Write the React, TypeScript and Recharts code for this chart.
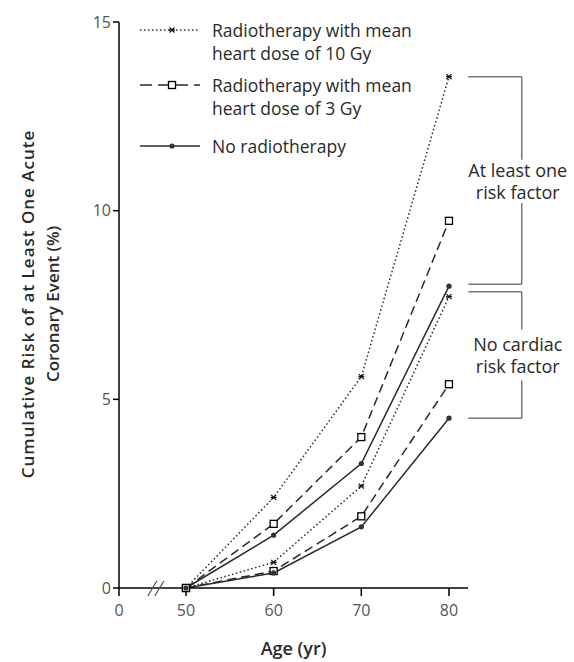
import { LineChart, Line, XAxis, YAxis, Legend, ReferenceLine, ReferenceDot } from "recharts";

// Age groups and cumulative risk (%)
const ages = [50, 60, 70, 80];
// patients with at least one cardiac risk factor
const dose10Risk = [0, 2.4, 5.6, 13.55];
const dose3Risk = [0, 1.7, 4.0, 9.73];
const noRtRisk = [0, 1.4, 3.3, 8.0];
// patients with no cardiac risk factor
const dose10None = [0, 0.68, 2.7, 7.72];
const dose3None = [0, 0.45, 1.9, 5.4];
const noRtNone = [0, 0.4, 1.62, 4.5];

// broken x axis: "0" is drawn just left of the break
const axisZero = 42.36;
const xTicks = [axisZero, 50, 60, 70, 80];
const xTickLabels = ["0", "50", "60", "70", "80"];
const yTicks = [0, 5, 10, 15];

const legendLabels = [
  ["Radiotherapy with mean", "heart dose of 10 Gy"],
  ["Radiotherapy with mean", "heart dose of 3 Gy"],
  ["No radiotherapy"],
];

// bracket annotations on the right
const bracketLabels = [
  ["At least one", "risk factor"],
  ["No cardiac", "risk factor"],
];
const bracketTop = [13.55, 7.85];
const bracketBottom = [8.05, 4.5];
const bracketGapTop = [11.35, 6.85];
const bracketGapBottom = [10.2, 5.5];
const bracketStart = 82.2;
const bracketEdge = 88.3;

const data = ages.map((age, i) => ({
  age,
  dose10Risk: dose10Risk[i],
  dose3Risk: dose3Risk[i],
  noRtRisk: noRtRisk[i],
  dose10None: dose10None[i],
  dose3None: dose3None[i],
  noRtNone: noRtNone[i],
}));

const INK = "#2a2a2a";
const FONT = "'Open Sans', sans-serif";

type MarkerKind = "star" | "square" | "dot";

const Marker = ({ kind, cx, cy }: { kind: MarkerKind; cx: number; cy: number }) => {
  if (kind === "square") {
    return <rect x={cx - 3.5} y={cy - 3.5} width={7} height={7} fill="#fff" stroke="#000" strokeWidth={1.3} />;
  }
  if (kind === "star") {
    return (
      <g stroke="#111" strokeWidth={1.2}>
        <line x1={cx - 2.5} y1={cy - 2.5} x2={cx + 2.5} y2={cy + 2.5} />
        <line x1={cx - 2.5} y1={cy + 2.5} x2={cx + 2.5} y2={cy - 2.5} />
        <line x1={cx - 3} y1={cy} x2={cx + 3} y2={cy} />
      </g>
    );
  }
  return <circle cx={cx} cy={cy} r={2.6} fill="#333" />;
};

const seriesStyles: { key: string; dash?: string; marker: MarkerKind }[] = [
  { key: "dose10Risk", dash: "1.5 2.5", marker: "star" },
  { key: "dose3Risk", dash: "9 5", marker: "square" },
  { key: "noRtRisk", marker: "dot" },
  { key: "dose10None", dash: "1.5 2.5", marker: "star" },
  { key: "dose3None", dash: "9 5", marker: "square" },
  { key: "noRtNone", marker: "dot" },
];
const legendStyles = [seriesStyles[0], seriesStyles[1], seriesStyles[2]];
const legendRowY = [15, 70, 131];

const renderLegend = () => (
  <svg width={300} height={150} style={{ overflow: "visible" }}>
    {legendStyles.map((s, i) => (
      <g key={s.key}>
        <line x1={5} x2={65} y1={legendRowY[i]} y2={legendRowY[i]} stroke={INK} strokeWidth={1.5} strokeDasharray={s.dash === "9 5" ? "12 6" : s.dash} />
        <Marker kind={s.marker} cx={37} cy={legendRowY[i]} />
        {legendLabels[i].map((t, j) => (
          <text key={j} x={77} y={legendRowY[i] + j * 23} dominantBaseline="central" fontSize={17.5} fill={INK} fontFamily={FONT}>
            {t}
          </text>
        ))}
      </g>
    ))}
  </svg>
);

const renderYLabel = (props: any) => {
  const vb = props.viewBox || { x: 0, y: 22, width: 119, height: 566 };
  const cy = vb.y + vb.height / 2 - 1;
  return (
    <g fontFamily={FONT} fontWeight={600} fontSize={17} fill={INK} textAnchor="middle">
      <text x={27} y={cy} dominantBaseline="central" letterSpacing={1} transform={`rotate(-90 27 ${cy})`}>
        Cumulative Risk of at Least One Acute
      </text>
      <text x={52} y={cy} dominantBaseline="central" transform={`rotate(-90 52 ${cy})`}>
        Coronary Event (%)
      </text>
    </g>
  );
};

const AxisBreak = (props: any) => {
  const { cx, cy } = props;
  return (
    <g stroke="#555" strokeWidth={1.3}>
      <line x1={cx - 11} y1={cy + 8} x2={cx - 2} y2={cy - 7} />
      <line x1={cx - 4} y1={cy + 8} x2={cx + 5} y2={cy - 7} />
    </g>
  );
};

const BracketText = (i: number) => (props: any) => {
  const { cx, cy } = props;
  return (
    <g fontFamily={FONT} fontSize={18} fill={INK} textAnchor="middle">
      {bracketLabels[i].map((t, j) => (
        <text key={j} x={cx - 4} y={cy + (j - 0.5) * 22} dominantBaseline="central">
          {t}
        </text>
      ))}
    </g>
  );
};

export default function App() {
  return (
    <div style={{ position: "absolute", left: 0, top: 0, background: "#fff" }}>
      <LineChart width={574} height={662} data={data} margin={{ top: 22, right: 106, bottom: 0, left: 0 }}>
        <XAxis
          dataKey="age"
          type="number"
          domain={[axisZero, 82.17]}
          ticks={xTicks}
          allowDataOverflow
          tickFormatter={(v: number) => xTickLabels[xTicks.indexOf(v)] ?? String(v)}
          height={74}
          tickSize={8}
          tick={{ fontSize: 16, fill: "#555", fontFamily: FONT, dy: 7 }}
          axisLine={{ stroke: "#000", strokeWidth: 1.5 }}
          tickLine={{ stroke: "#000", strokeWidth: 1.5 }}
          label={{ value: "Age (yr)", position: "insideBottom", offset: 7, fontSize: 18, fontWeight: 600, fill: INK, fontFamily: FONT }}
        />
        <YAxis
          type="number"
          domain={[0, 15]}
          ticks={yTicks}
          width={119}
          tickSize={6}
          tick={{ fontSize: 16, fill: "#555", fontFamily: FONT }}
          axisLine={{ stroke: "#000", strokeWidth: 1.5 }}
          tickLine={{ stroke: "#000", strokeWidth: 1.5 }}
          label={renderYLabel}
        />
        <Legend content={renderLegend} layout="vertical" align="center" verticalAlign="middle" wrapperStyle={{ top: 15, left: 135, width: 320, height: 150 }} />
        <ReferenceDot x={46.9} y={0} ifOverflow="visible" shape={AxisBreak} />
        {seriesStyles.map((s) => (
          <Line
            key={s.key}
            dataKey={s.key}
            stroke={INK}
            strokeWidth={1.5}
            strokeDasharray={s.dash}
            dot={(p: any) => <Marker key={`${s.key}-${p.index}`} kind={s.marker} cx={p.cx} cy={p.cy} />}
            activeDot={false}
            isAnimationActive={false}
            legendType="none"
          />
        ))}
        {bracketLabels.map((_, i) => [
          <ReferenceLine key={`bt${i}`} ifOverflow="visible" stroke="#777" strokeWidth={1.5} segment={[{ x: bracketStart, y: bracketTop[i] }, { x: bracketEdge, y: bracketTop[i] }]} />,
          <ReferenceLine key={`bv1${i}`} ifOverflow="visible" stroke="#777" strokeWidth={1.5} segment={[{ x: bracketEdge, y: bracketTop[i] }, { x: bracketEdge, y: bracketGapTop[i] }]} />,
          <ReferenceLine key={`bv2${i}`} ifOverflow="visible" stroke="#777" strokeWidth={1.5} segment={[{ x: bracketEdge, y: bracketGapBottom[i] }, { x: bracketEdge, y: bracketBottom[i] }]} />,
          <ReferenceLine key={`bb${i}`} ifOverflow="visible" stroke="#777" strokeWidth={1.5} segment={[{ x: bracketStart, y: bracketBottom[i] }, { x: bracketEdge, y: bracketBottom[i] }]} />,
          <ReferenceDot key={`bl${i}`} ifOverflow="visible" x={bracketEdge} y={(bracketGapTop[i] + bracketGapBottom[i]) / 2} shape={BracketText(i)} />,
        ])}
      </LineChart>
    </div>
  );
}
